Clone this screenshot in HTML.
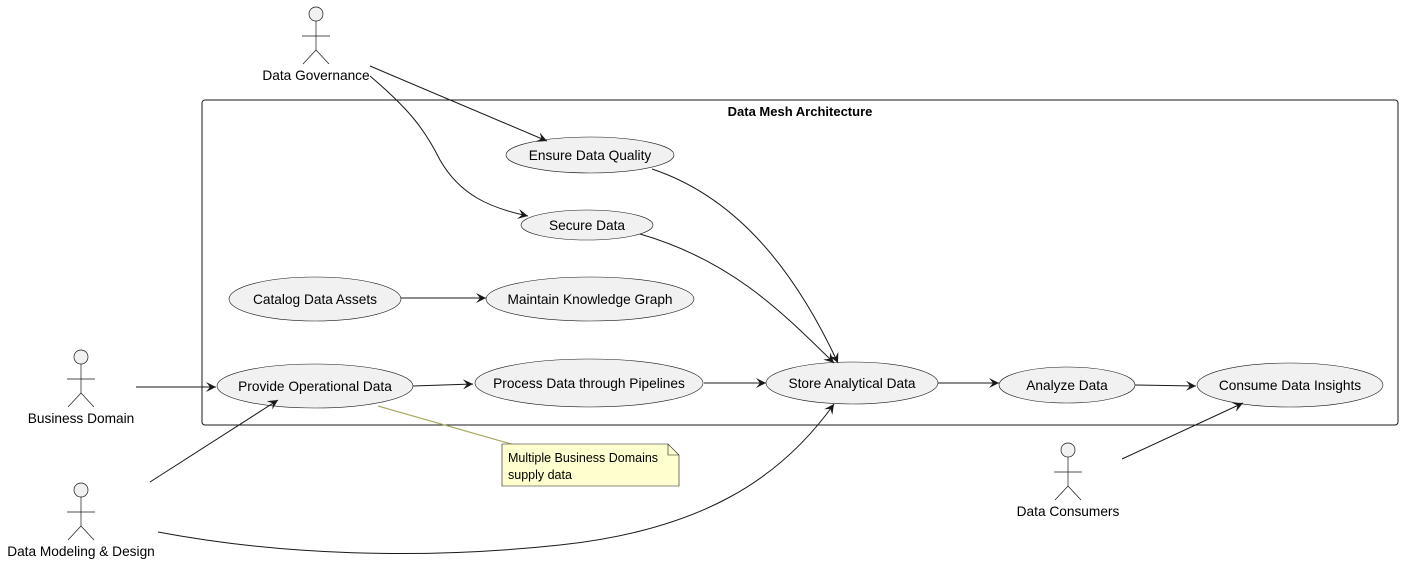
<!DOCTYPE html>
<html><head><meta charset="utf-8"><style>
html,body{margin:0;padding:0;background:#fff;}
svg{display:block;font-family:"Liberation Sans",Arial,sans-serif;}
</style></head><body>
<svg width="1404" height="580" viewBox="0 0 1404 580" xmlns="http://www.w3.org/2000/svg">
<defs>
<marker id="a" markerWidth="12" markerHeight="10" refX="10" refY="5" orient="auto" markerUnits="userSpaceOnUse">
<path d="M0,0 L10,5 L0,10 L4,5 Z" fill="#181818"/>
</marker>
</defs>
<rect x="202" y="100" width="1196" height="325" rx="3" fill="none" stroke="#181818" stroke-width="1"/>
<text x="800" y="116" font-size="13" font-weight="bold" text-anchor="middle">Data Mesh Architecture</text>

<g fill="#f1f1f1" stroke="#181818" stroke-width="0.6">
<ellipse cx="590" cy="155" rx="84" ry="18"/>
<ellipse cx="587" cy="225" rx="66" ry="15"/>
<ellipse cx="315" cy="299" rx="86" ry="22"/>
<ellipse cx="590" cy="299" rx="104" ry="22"/>
<ellipse cx="315" cy="386" rx="98" ry="22"/>
<ellipse cx="589" cy="383" rx="114" ry="24"/>
<ellipse cx="852" cy="383" rx="86" ry="21"/>
<ellipse cx="1067" cy="385" rx="68" ry="18"/>
<ellipse cx="1290" cy="385" rx="93" ry="22"/>
</g>
<g font-size="13.7" text-anchor="middle" fill="#000">
<text x="590" y="160">Ensure Data Quality</text>
<text x="587" y="230">Secure Data</text>
<text x="315" y="304">Catalog Data Assets</text>
<text x="590" y="304">Maintain Knowledge Graph</text>
<text x="315" y="391">Provide Operational Data</text>
<text x="589" y="388">Process Data through Pipelines</text>
<text x="852" y="388">Store Analytical Data</text>
<text x="1067" y="390">Analyze Data</text>
<text x="1290" y="390">Consume Data Insights</text>
</g>

<g fill="none" stroke="#181818" stroke-width="1" marker-end="url(#a)">
<path d="M370,66 L547,141"/>
<path d="M370,76 C410,110 425,130 440,160 C460,195 490,208 528,216"/>
<path d="M652,169 C730,195 790,260 838,363"/>
<path d="M640,234 C730,260 780,310 834,363"/>
<path d="M401,298 L486,298"/>
<path d="M136,387 L216,387"/>
<path d="M413,386 L473,384"/>
<path d="M704,383 L766,383"/>
<path d="M938,383 L999,383"/>
<path d="M1135,385 L1196,386"/>
<path d="M150,482 L278,400"/>
<path d="M158,532 C280,555 420,560 560,545 C700,530 780,480 834,404"/>
<path d="M1122,459 L1243,403"/>
</g>

<path d="M378,406 L518,446" stroke="#a8a860" stroke-width="1.2" fill="none"/>
<path d="M502,444 L668,444 L679,455 L679,486 L502,486 Z" fill="#fefece" stroke="#181818" stroke-width="0.6"/>
<path d="M668,444 L668,455 L679,455" fill="none" stroke="#181818" stroke-width="0.6"/>
<text x="508" y="462" font-size="12.5">Multiple Business Domains</text>
<text x="508" y="479" font-size="12.5">supply data</text>

<g fill="none" stroke="#181818" stroke-width="0.7">
<g transform="translate(316,0)">
<circle cx="0" cy="14" r="7" fill="#f1f1f1"/><path d="M0,21 V50 M-14,36 H14 M0,50 L-13,64 M0,50 L13,64"/>
</g>
<g transform="translate(81,343)">
<circle cx="0" cy="14" r="7" fill="#f1f1f1"/><path d="M0,21 V50 M-14,36 H14 M0,50 L-13,64 M0,50 L13,64"/>
</g>
<g transform="translate(81,476)">
<circle cx="0" cy="14" r="7" fill="#f1f1f1"/><path d="M0,21 V50 M-14,36 H14 M0,50 L-13,64 M0,50 L13,64"/>
</g>
<g transform="translate(1068,436)">
<circle cx="0" cy="14" r="7" fill="#f1f1f1"/><path d="M0,21 V50 M-14,36 H14 M0,50 L-13,64 M0,50 L13,64"/>
</g>
</g>
<g font-size="13.7" text-anchor="middle">
<text x="316" y="80">Data Governance</text>
<text x="81" y="423">Business Domain</text>
<text x="81" y="556">Data Modeling &amp; Design</text>
<text x="1068" y="516">Data Consumers</text>
</g>
</svg>
</body></html>
